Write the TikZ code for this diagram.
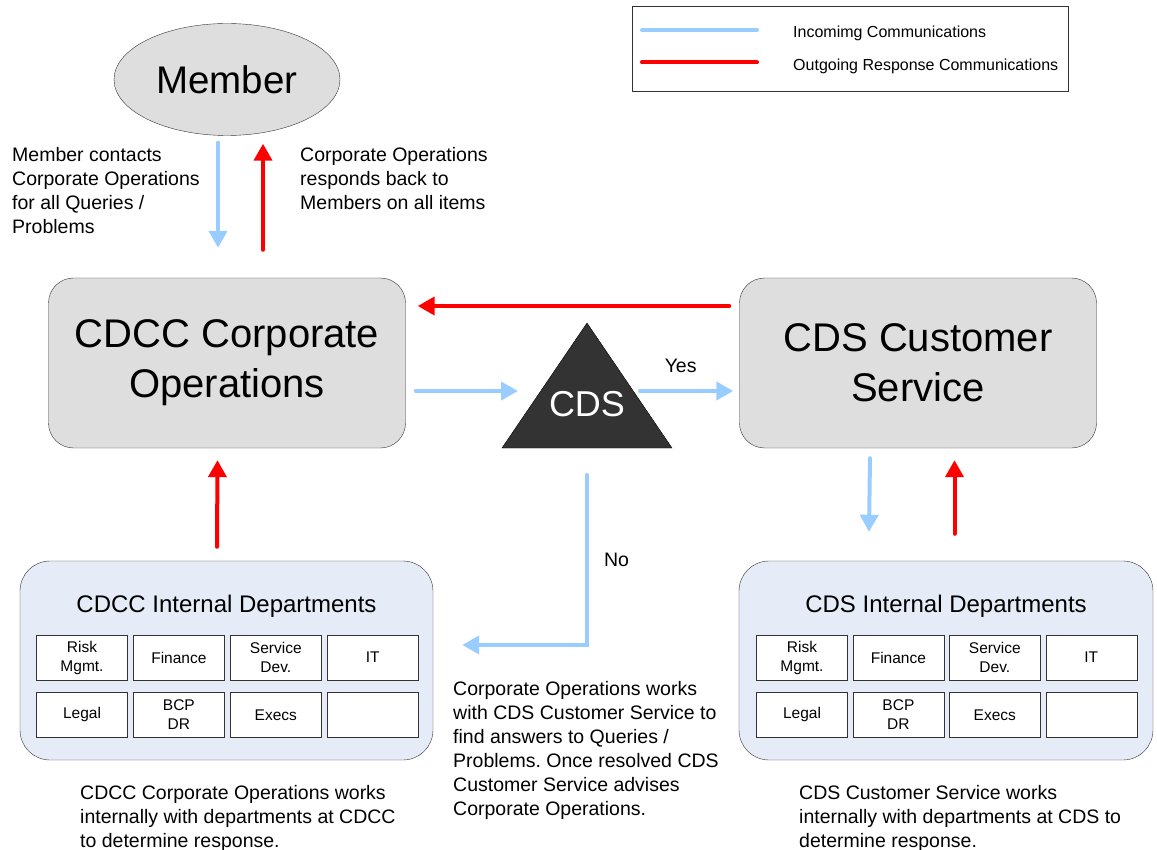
\documentclass[tikz,border=0pt]{standalone}
\usepackage{fontspec}
\setmainfont{Liberation Sans}
\usepackage{xcolor}
\usetikzlibrary{arrows.meta,positioning,shapes.geometric,calc}
\frenchspacing

\definecolor{inblue}{HTML}{99CCFF}
\definecolor{outred}{HTML}{FF0000}
\definecolor{unitgray}{HTML}{DEDEDE}
\definecolor{deptfill}{HTML}{E6ECF7}
\definecolor{cdsdark}{HTML}{333333}

\begin{document}
\begin{tikzpicture}[
    x=1pt, y=-1pt,
    unit/.style={draw=black!80, rounded corners=25pt, fill=unitgray, minimum width=357pt, minimum height=170pt, align=center, font=\fontsize{40}{50}\selectfont},
    dept/.style={draw=black!80, rounded corners=30pt, fill=deptfill, minimum width=413pt, minimum height=199pt},
    depttitle/.style={font=\fontsize{24}{28}\selectfont},
    cell/.style={draw=black!80, fill=white, minimum width=91pt, minimum height=45pt, inner sep=0pt, align=center, font=\fontsize{15.5}{19}\selectfont},
    note/.style={anchor=north west, inner sep=0pt, align=left, font=\fontsize{19.5}{24}\selectfont},
    label/.style={inner sep=0pt, text=black, font=\fontsize{19.5}{24}\selectfont},
    incoming/.style={-{Triangle[length=17pt,width=18pt]}, line width=4pt, line cap=round, inblue},
    outgoing/.style={-{Triangle[length=17pt,width=18pt]}, line width=4pt, line cap=round, outred},
]
\useasboundingbox (0,0) rectangle (1157,850);

% Legend
\node[draw=black!80, minimum width=436pt, minimum height=85pt, inner sep=0pt] (legend) at (849.7,48.5) {};
\coordinate (in_a) at (642,30);
\coordinate (in_b) at (757,30);
\coordinate (out_a) at (642,62.5);
\coordinate (out_b) at (757,62.5);
\draw[line width=4pt, line cap=round, inblue] (in_a) -- (in_b);
\draw[line width=4pt, line cap=round, outred] (out_a) -- (out_b);
\node[anchor=base west, inner sep=0pt, font=\fontsize{16}{19}\selectfont] (in_text) at (793,37.5) {Incomimg Communications};
\node[anchor=base west, inner sep=0pt, font=\fontsize{16}{19}\selectfont] (out_text) at (793,70.5) {Outgoing Response Communications};

% Member and the two units
\node[ellipse, draw=black!80, fill=unitgray, minimum width=226pt, minimum height=112pt, inner sep=0pt, font=\fontsize{38.5}{44}\selectfont] (member) at (227,79.5) {Member};
\node[unit] (ops) at (227,363) {CDCC Corporate\\Operations};
\node[unit] (service) at (918,363) {CDS Customer\\Service};

% CDS decision triangle
\coordinate (apex) at (587,323);
\draw[draw=black, fill=cdsdark] (apex) -- ++(-85,125) -- ++(170,0) -- cycle;
\node[text=white, inner sep=0pt, font=\fontsize{36}{40}\selectfont] (cds) at (587,404) {CDS};

% Internal departments, CDCC side
\node[dept] (cdcc_int) at (226.5,660.5) {};
\node[depttitle] (cdcc_title) at (226.5,606) {CDCC Internal Departments};
\node[cell] (cdcc_risk) at (82,657.5) {Risk\\Mgmt.};
\node[cell, right=5.5pt of cdcc_risk] (cdcc_fin) {Finance};
\node[cell, right=5.5pt of cdcc_fin] (cdcc_dev) {Service\\Dev.};
\node[cell, right=5.5pt of cdcc_dev] (cdcc_it) {IT};
\node[cell, below=12pt of cdcc_risk] (cdcc_legal) {Legal};
\node[cell, right=5.5pt of cdcc_legal] (cdcc_bcp) {BCP\\DR};
\node[cell, right=5.5pt of cdcc_bcp] (cdcc_exec) {Execs};
\node[cell, right=5.5pt of cdcc_exec] (cdcc_blank) {};

% Internal departments, CDS side
\node[dept, minimum width=414pt] (cds_int) at (946,660.5) {};
\node[depttitle] (cds_title) at (946,606) {CDS Internal Departments};
\node[cell] (cds_risk) at (802,657.5) {Risk\\Mgmt.};
\node[cell, right=5pt of cds_risk] (cds_fin) {Finance};
\node[cell, right=5pt of cds_fin] (cds_dev) {Service\\Dev.};
\node[cell, right=5pt of cds_dev] (cds_it) {IT};
\node[cell, below=12pt of cds_risk] (cds_legal) {Legal};
\node[cell, right=5pt of cds_legal] (cds_bcp) {BCP\\DR};
\node[cell, right=5pt of cds_bcp] (cds_exec) {Execs};
\node[cell, right=5pt of cds_exec] (cds_blank) {};

% Member <-> CDCC Corporate Operations
\draw[incoming] ($(member.south)+(-9,7)$) -- ($(ops.north)+(-9,-30)$);
\draw[outgoing] ($(ops.north)+(36,-28)$) -- ($(member.south)+(36,8)$);

% CDCC -> CDS -> Customer Service, and the reply back
\draw[outgoing] ($(service.west)+(-10,-57)$) -- ($(ops.east)+(12,-57)$);
\draw[incoming] ($(ops.east)+(10,28)$) -- ($(cds)+(-69,-13)$);
\draw[incoming] ($(cds)+(53,-13)$) -- node[label, above=16pt, xshift=-6pt] {Yes} ($(service.west)+(-6,28)$);
\draw[incoming] ($(cds)+(0,71)$) |- node[label, pos=0.25, right=15pt] {No} ($(cdcc_int.east)+(29,-15.5)$);

% Units <-> their internal departments
\draw[outgoing] ($(cdcc_int.north)+(-9.5,-14)$) -- ($(ops.south)+(-9.5,12)$);
\draw[incoming] ($(service.south)+(-48,10)$) -- ($(cds_int.north)+(-77,-29)$);
\draw[outgoing] ($(cds_int.north)+(8.5,-27)$) -- ($(service.south)+(36.5,12)$);

% Notes
\node[note] (note_member) at (12,147) {Member contacts\\Corporate Operations\\for all Queries /\\Problems};
\node[note] (note_reply) at (300,147) {Corporate Operations\\responds back to\\Members on all items};
\node[note] (note_cds) at (453,681) {Corporate Operations works\\with CDS Customer Service to\\find answers to Queries /\\Problems. Once resolved CDS\\Customer Service advises\\Corporate Operations.};
\node[note] (note_cdcc_int) at (80,785) {CDCC Corporate Operations works\\internally with departments at CDCC\\to determine response.};
\node[note] (note_cds_int) at (799,785) {CDS Customer Service works\\internally with departments at CDS to\\determine response.};

\end{tikzpicture}
\end{document}
